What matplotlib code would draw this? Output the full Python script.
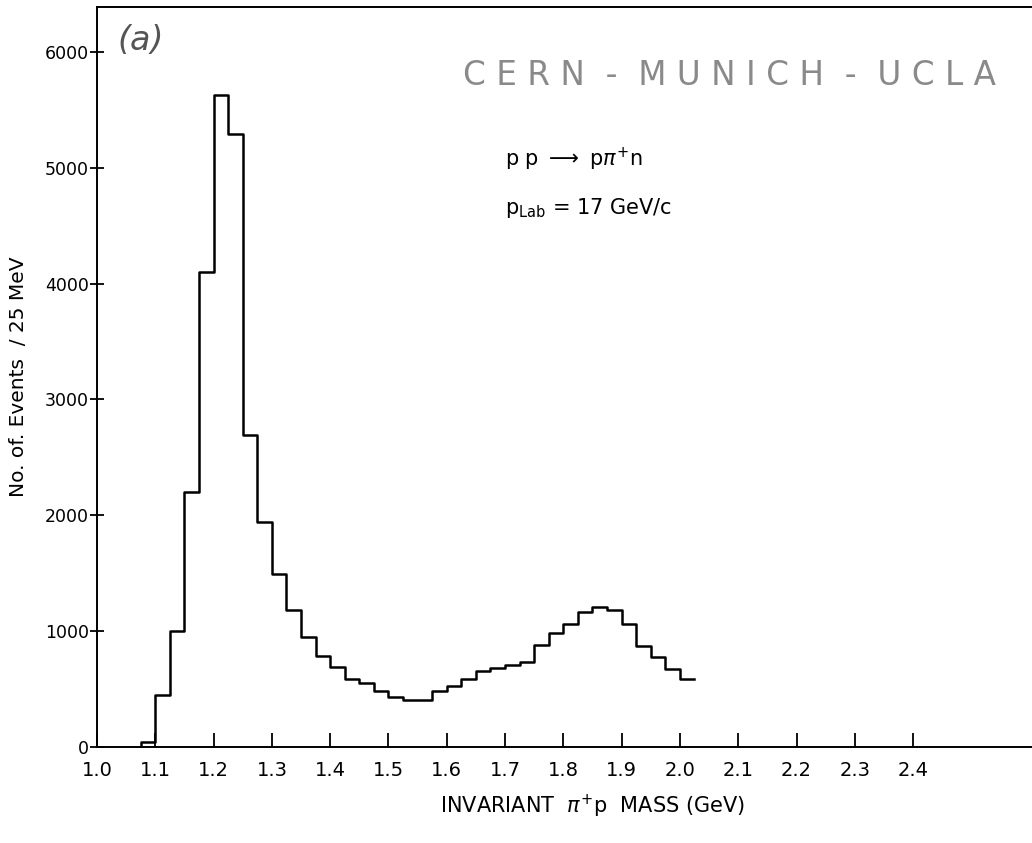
import numpy as np
import matplotlib
matplotlib.use("Agg")
import matplotlib.pyplot as plt

# pp -> p pi+ n, 17 GeV/c : pi+p invariant mass, 25 MeV bins
bin_start = 1.075
bin_width = 0.025
counts = [40, 450, 1000, 2200, 4100, 5630, 5290, 2690, 1945, 1495,
          1180, 945, 785, 688, 590, 555, 480, 435, 405, 405,
          480, 530, 582, 653, 680, 705, 737, 880, 980, 1065,
          1165, 1212, 1180, 1062, 872, 780, 674, 585]
xticks = [1.0, 1.1, 1.2, 1.3, 1.4, 1.5, 1.6, 1.7, 1.8, 1.9, 2.0, 2.1, 2.2, 2.3, 2.4]
yticks = [0, 1000, 2000, 3000, 4000, 5000, 6000]

plt.rcParams['font.family'] = ['DejaVu Sans']

fig = plt.figure(figsize=(10.32, 8.43), dpi=100)
ax = fig.add_axes([0.094, 0.114, 0.906, 0.878])

edges = bin_start + bin_width * np.arange(len(counts) + 1)
ax.step(np.r_[edges[0], edges], np.r_[0, counts, counts[-1]], where='post',
        color='black', lw=1.8)

ax.set_xlim(1.0, 2.604)
ax.set_ylim(0, 6390)
ax.set_xticks(xticks)
ax.set_xticklabels(["%.1f" % t for t in xticks], fontsize=14)
ax.set_yticks(yticks)
ax.set_yticklabels([str(t) for t in yticks], fontsize=12.5)
ax.tick_params(axis='x', direction='in', length=10, width=1.3, pad=10)
ax.tick_params(axis='y', direction='inout', length=10, width=1.3, pad=1)
for s in ['left', 'bottom', 'top']:
    ax.spines[s].set_linewidth(1.4)
ax.spines['right'].set_visible(False)

ax.set_ylabel("No. of. Events  / 25 MeV", fontsize=14.5, labelpad=12)
ax.set_xlabel(r"INVARIANT  $\pi^{+}$p  MASS (GeV)", fontsize=15)
ax.xaxis.set_label_coords(0.53, -0.062)

ax.text(1.035, 6100, "(a)", fontsize=24, color='#555555', style='italic', va='center')
ax.text(1.628, 5800, "C E R N  -  M U N I C H  -  U C L A", fontsize=23.5,
        color='#8a8a8a', va='center')
ax.text(1.70, 5070, r"p p $\longrightarrow$ p$\pi^{+}$n", fontsize=15, va='center')
ax.text(1.70, 4655, r"p$_{\mathrm{Lab}}$ = 17 GeV/c", fontsize=15, va='center')

fig.savefig("out.png", dpi=100)
